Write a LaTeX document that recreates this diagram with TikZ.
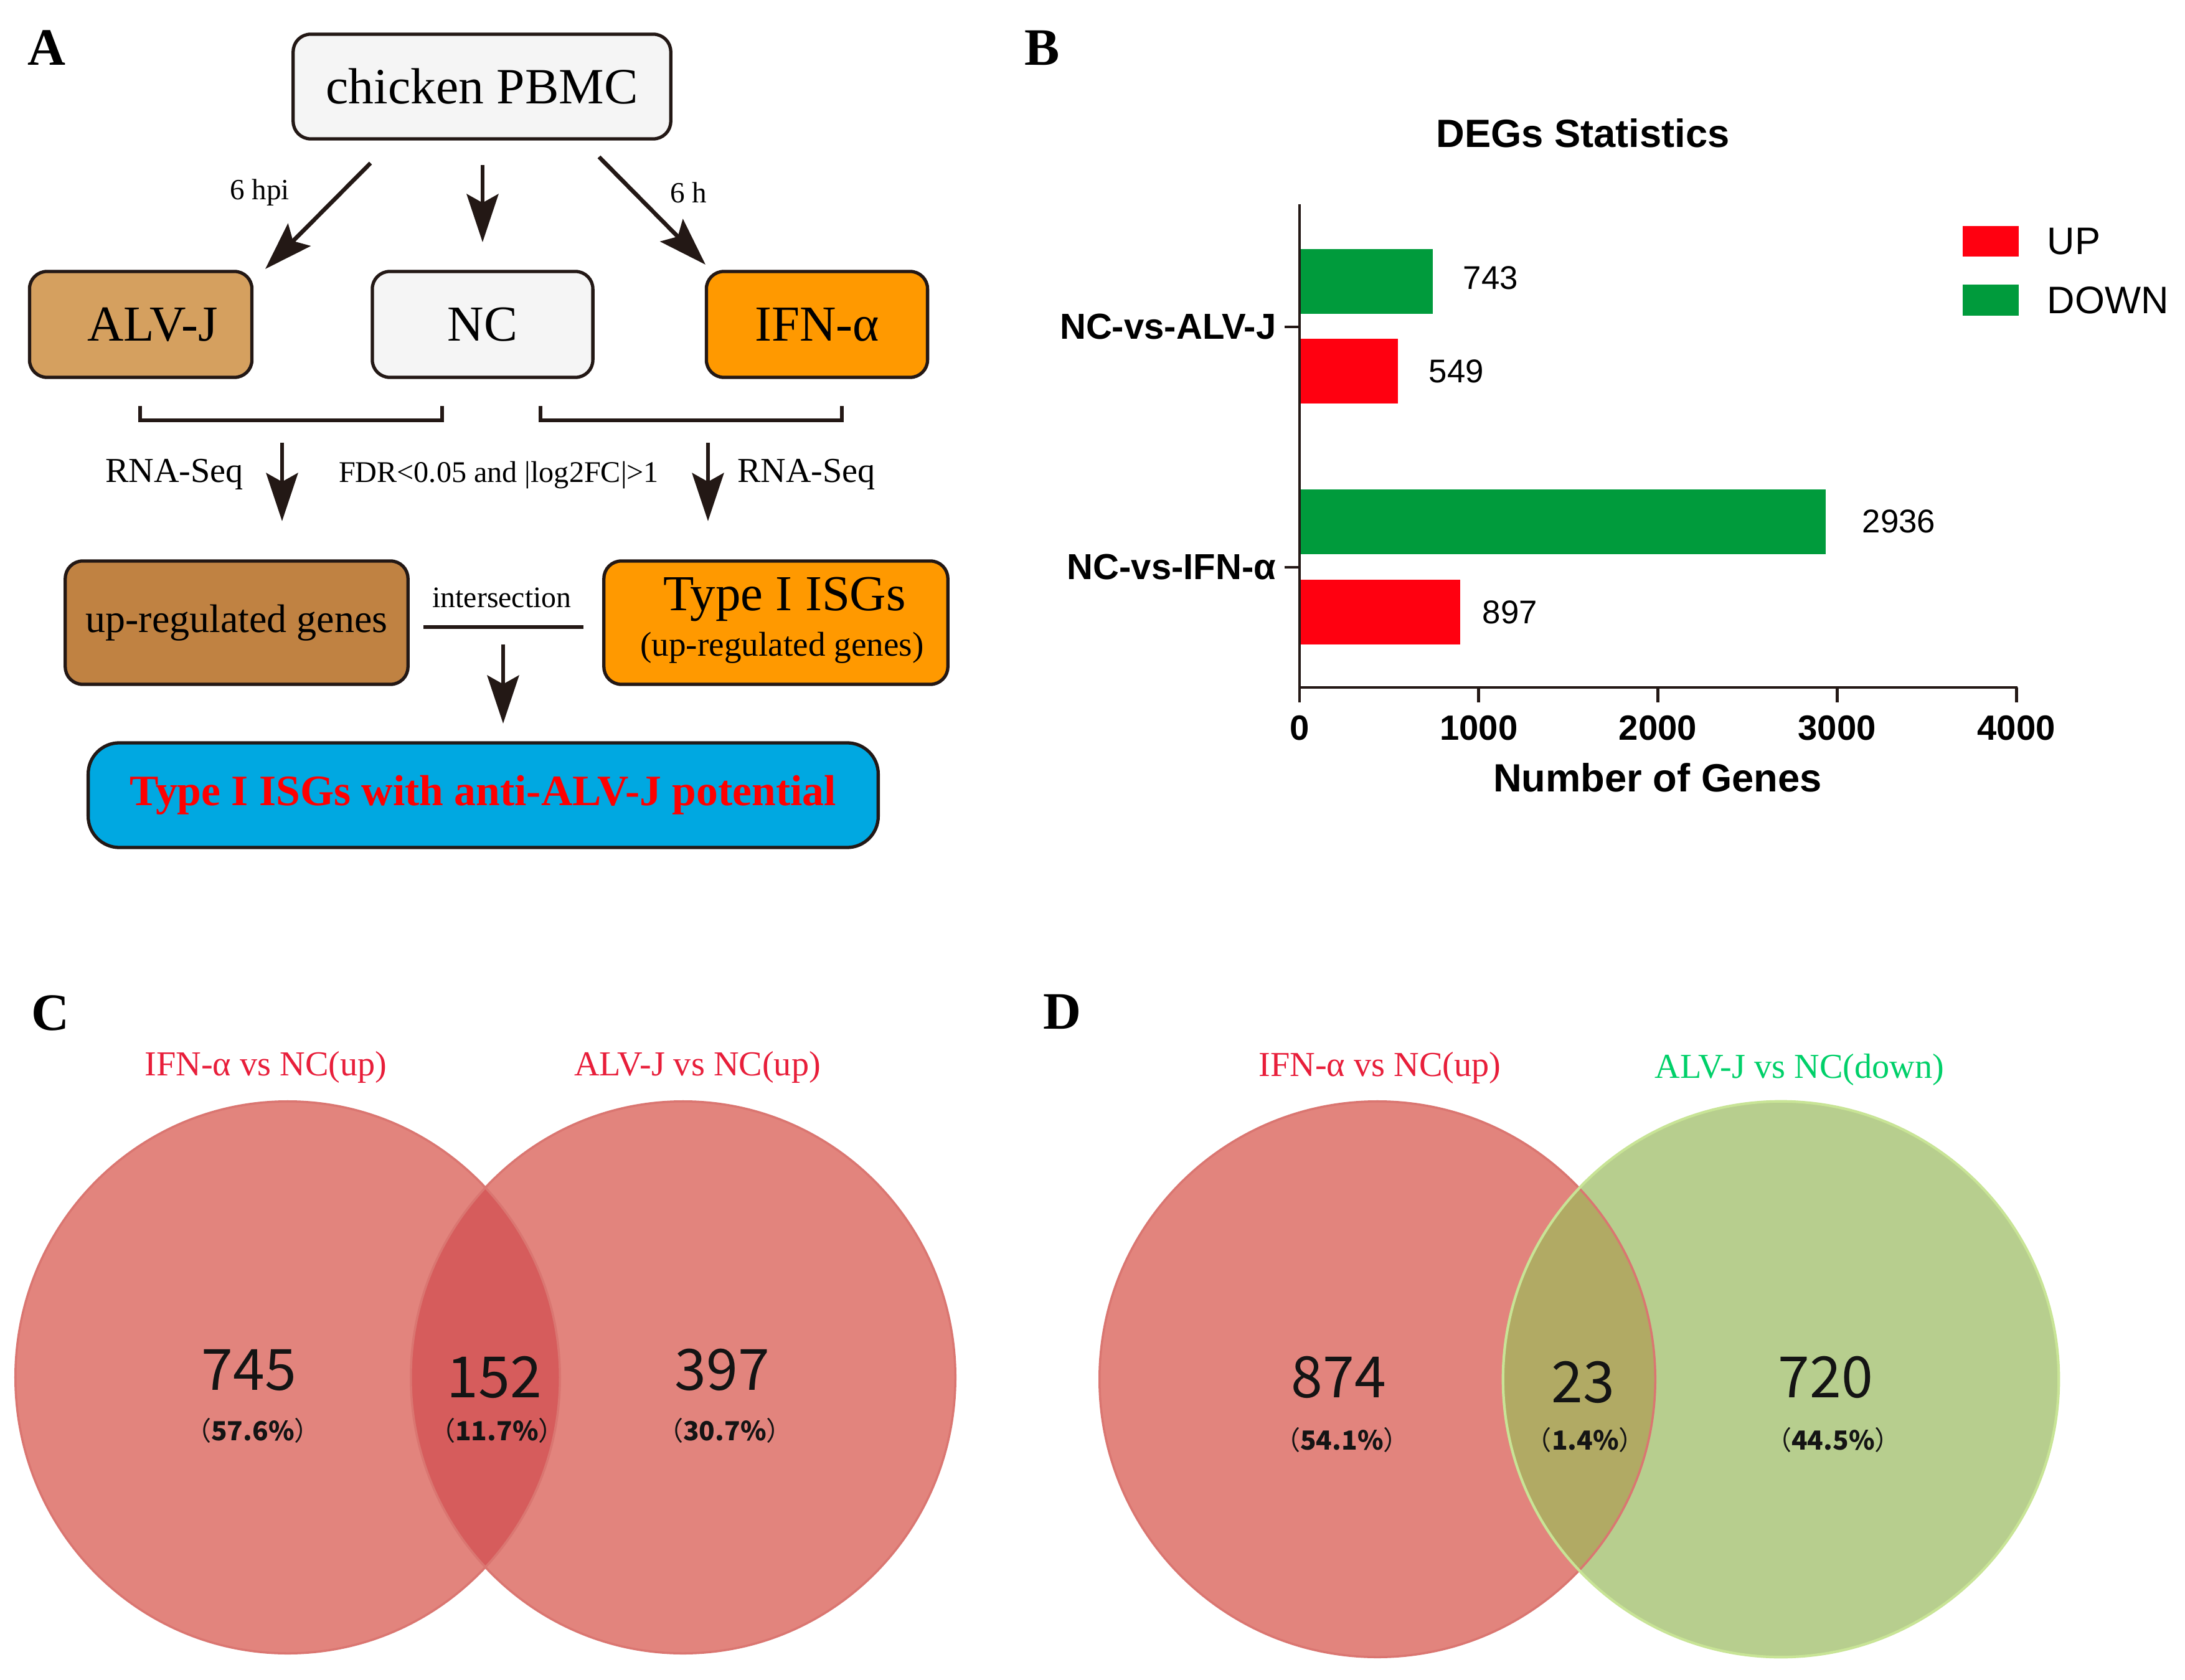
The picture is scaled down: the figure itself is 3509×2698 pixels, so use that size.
\documentclass[tikz,border=0pt]{standalone}
\usepackage{fontspec}
\setmainfont{Liberation Serif}
\newfontfamily\arialf{Liberation Sans}
\newfontfamily\cjkf{Noto Sans CJK SC}
\usetikzlibrary{arrows.meta}
\newcommand\myfs[1]{\fontsize{#1}{#1}\selectfont}
\newcommand\pct[1]{{\mdseries（}#1{\mdseries）}}
\definecolor{bordc}{RGB}{35,24,21}
\definecolor{ncfill}{RGB}{245,245,245}
\definecolor{alvfill}{RGB}{213,160,95}
\definecolor{orfill}{RGB}{255,153,0}
\definecolor{upfill}{RGB}{192,130,66}
\definecolor{resfill}{RGB}{0,168,225}
\definecolor{barred}{RGB}{255,0,16}
\definecolor{bargreen}{RGB}{0,155,60}
\definecolor{vred}{RGB}{226,132,125}
\definecolor{vredrim}{RGB}{218,118,113}
\definecolor{vlensC}{RGB}{214,92,92}
\definecolor{vgreen}{RGB}{183,206,142}
\definecolor{vgreenrim}{RGB}{200,228,150}
\definecolor{vlensD}{RGB}{177,170,100}
\definecolor{lblred}{RGB}{232,30,58}
\definecolor{lblgreen}{RGB}{0,208,105}
\definecolor{numc}{RGB}{20,20,20}
\tikzset{
  boxst/.style={draw=bordc, line width=1.5pt, rounded corners=0.28cm, inner sep=0pt},
  arr/.style={draw=bordc, line width=1.9pt, -{Stealth[length=22pt,width=14.5pt,inset=4pt]}},
  thinarr/.style={draw=bordc, line width=1.6pt, -{Stealth[length=22pt,width=14.5pt,inset=4pt]}},
  plabel/.style={font=\bfseries\myfs{24}, inner sep=0pt},
  brk/.style={draw=bordc, line width=1.7pt},
  axisst/.style={draw=bordc, line width=1.4pt},
  tlabel/.style={inner sep=0pt},
  vnum/.style={font=\cjkf\myfs{26}, text=numc, inner sep=0pt},
  vpct/.style={font=\cjkf\bfseries\myfs{12}, text=numc, inner sep=0pt},
  vlab/.style={font=\myfs{16}, inner sep=0pt}
}
\begin{document}
\begin{tikzpicture}[x=0.01cm,y=-0.01cm]
\fill[white] (0,0) rectangle (3509,2698);
\useasboundingbox (0,0) rectangle (3509,2698);

% panel letters
\node[plabel] (lA) at (75,77) {A};
\node[plabel] (lB) at (1674,77) {B};
\node[plabel] (lC) at (81,1627) {C};
\node[plabel] (lD) at (1706,1625) {D};

% ---------------- Panel A ----------------
\node[boxst, fill=ncfill, minimum width=6.06cm, minimum height=1.68cm, font=\myfs{23.2}] (pbmc) at (774,139) {chicken PBMC};
\node[boxst, fill=alvfill, minimum width=3.57cm, minimum height=1.70cm, font=\myfs{23}] (alvj) at (226,521) {\hspace{0.38cm}ALV-J};
\node[boxst, fill=ncfill, minimum width=3.54cm, minimum height=1.70cm, font=\myfs{23}] (nc) at (775,521) {NC};
\node[boxst, fill=orfill, minimum width=3.55cm, minimum height=1.70cm, font=\myfs{23}] (ifn) at (1312,521) {IFN-α};

\coordinate (a1s) at (595,262); \coordinate (a1e) at (426,432);
\coordinate (a2s) at (775,265); \coordinate (a2e) at (775,389);
\coordinate (a3s) at (962,252); \coordinate (a3e) at (1133,425);
\draw[arr] (a1s) -- (a1e);
\draw[thinarr] (a2s) -- (a2e);
\draw[arr] (a3s) -- (a3e);
\node[tlabel, font=\myfs{13.4}] (t6hpi) at (417,309) {6 hpi};
\node[tlabel, font=\myfs{13.4}] (t6h) at (1106,309) {6 h};

% brackets
\draw[brk] (225,652) -- (225,675) -- (710,675) -- (710,652);
\draw[brk] (868,652) -- (868,675) -- (1352,675) -- (1352,652);

\coordinate (b1s) at (453,711); \coordinate (b1e) at (453,837);
\coordinate (b2s) at (1137,711); \coordinate (b2e) at (1137,837);
\draw[thinarr] (b1s) -- (b1e);
\draw[thinarr] (b2s) -- (b2e);
\node[tlabel, font=\myfs{16}] (rnaL) at (280,762) {RNA-Seq};
\node[tlabel, font=\myfs{13.7}] (fdr) at (801,763) {FDR<0.05 and |log2FC|>1};
\node[tlabel, font=\myfs{16}] (rnaR) at (1295,762) {RNA-Seq};

\node[boxst, fill=upfill, minimum width=5.50cm, minimum height=1.98cm, font=\myfs{18.2}] (upg) at (380,1000) {up-regulated genes};
\node[boxst, fill=orfill, minimum width=5.52cm, minimum height=1.98cm] (isg) at (1246,1000) {};
\node[tlabel, font=\myfs{23}] (isgA) at (1260,962) {Type I ISGs};
\node[tlabel, font=\myfs{15.7}] (isgB) at (1256,1040) {(up-regulated genes)};

\node[tlabel, font=\myfs{13.6}] (inter) at (806,960) {intersection};
\coordinate (il1) at (680,1007); \coordinate (il2) at (937,1007);
\draw[draw=bordc, line width=1.5pt] (il1) -- (il2);
\coordinate (c1s) at (808,1035); \coordinate (c1e) at (808,1162);
\draw[thinarr] (c1s) -- (c1e);

\node[boxst, fill=resfill, rounded corners=0.5cm, minimum width=12.68cm, minimum height=1.68cm, text=red, font=\bfseries\myfs{19.8}] (res) at (776,1277) {Type I ISGs with anti-ALV-J potential};

% ---------------- Panel B ----------------
\begin{scope}[font=\arialf]
\node[tlabel, font=\arialf\bfseries\myfs{18}] (degt) at (2542,214) {DEGs Statistics};
% bars
\fill[bargreen] (2087,400) rectangle (2301,504);
\fill[barred]   (2087,544) rectangle (2245,648);
\fill[bargreen] (2087,786) rectangle (2932,890);
\fill[barred]   (2087,931) rectangle (2345,1035);
% axes
\draw[axisst, line join=miter] (2087,328) -- (2087,1104) -- (3240,1104);
\foreach \i/\lab in {0/0,1/1000,2/2000,3/3000,4/4000}{
  \draw[axisst] ({2087+\i*287.75},1104) -- ++(0,24);
  \node[tlabel, font=\arialf\bfseries\myfs{16}] (tick\i) at ({2087+\i*287.75},1169) {\lab};
}
\draw[axisst] (2063,525) -- (2087,525);
\draw[axisst] (2063,911) -- (2087,911);
\node[tlabel, anchor=east, font=\arialf\bfseries\myfs{16.5}] (catA) at (2050,525) {NC-vs-ALV-J};
\node[tlabel, anchor=east, font=\arialf\bfseries\myfs{16.5}] (catB) at (2050,911) {NC-vs-IFN-α};
\node[tlabel, font=\arialf\bfseries\myfs{18}] (xlab) at (2662,1249) {Number of Genes};
% values
\node[tlabel, anchor=west, font=\arialf\myfs{15}] (v1) at (2349,446) {743};
\node[tlabel, anchor=west, font=\arialf\myfs{15}] (v2) at (2294,596) {549};
\node[tlabel, anchor=west, font=\arialf\myfs{15}] (v3) at (2990,837) {2936};
\node[tlabel, anchor=west, font=\arialf\myfs{15}] (v4) at (2380,983) {897};
% legend
\fill[barred]   (3152,363) rectangle (3242,412);
\fill[bargreen] (3152,457) rectangle (3242,507);
\node[tlabel, anchor=west, font=\arialf\myfs{17.5}] (lgu) at (3287,388) {UP};
\node[tlabel, anchor=west, font=\arialf\myfs{17.5}] (lgd) at (3287,482) {DOWN};
\end{scope}

% ---------------- Panel C ----------------
\fill[vred] (462,2212) ellipse [x radius=4.37cm, y radius=4.43cm];
\fill[vred] (1097,2212) ellipse [x radius=4.37cm, y radius=4.43cm];
\begin{scope}
\clip (462,2212) ellipse [x radius=4.37cm, y radius=4.43cm];
\fill[vlensC] (1097,2212) ellipse [x radius=4.37cm, y radius=4.43cm];
\end{scope}
\draw[vredrim, line width=1pt] (462,2212) ellipse [x radius=4.37cm, y radius=4.43cm];
\draw[vredrim, line width=1pt] (1097,2212) ellipse [x radius=4.37cm, y radius=4.43cm];
\node[vlab, text=lblred] (cl1) at (427,1714) {IFN-α vs NC(up)};
\node[vlab, text=lblred] (cl2) at (1120,1714) {ALV-J vs NC(up)};
\node[vnum] (cn1) at (400,2200) {745};
\node[vpct] (cp1) at (406,2297) {\pct{57.6\%}};
\node[vnum] (cn2) at (794,2212) {152};
\node[vpct] (cp2) at (798,2297) {\pct{11.7\%}};
\node[vnum] (cn3) at (1160,2200) {397};
\node[vpct] (cp3) at (1164,2297) {\pct{30.7\%}};

% ---------------- Panel D ----------------
\fill[vred] (2212,2215) circle [radius=4.46cm];
\fill[vgreen] (2860,2215) circle [radius=4.46cm];
\begin{scope}
\clip (2212,2215) circle [radius=4.46cm];
\fill[vlensD] (2860,2215) circle [radius=4.46cm];
\end{scope}
\draw[vredrim, line width=1pt] (2212,2215) circle [radius=4.46cm];
\draw[vgreenrim, line width=1.2pt] (2860,2215) circle [radius=4.46cm];
\node[vlab, text=lblred] (dl1) at (2216,1715) {IFN-α vs NC(up)};
\node[vlab, text=lblgreen] (dl2) at (2890,1718) {ALV-J vs NC(down)};
\node[vnum] (dn1) at (2150,2212) {874};
\node[vpct] (dp1) at (2155,2312) {\pct{54.1\%}};
\node[vnum] (dn2) at (2542,2220) {23};
\node[vpct] (dp2) at (2546,2312) {\pct{1.4\%}};
\node[vnum] (dn3) at (2932,2212) {720};
\node[vpct] (dp3) at (2944,2312) {\pct{44.5\%}};
\end{tikzpicture}
\end{document}
